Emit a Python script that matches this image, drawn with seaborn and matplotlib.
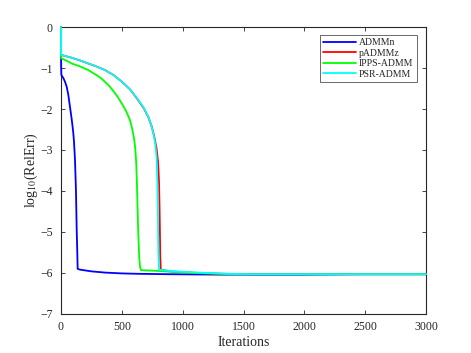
import pandas as pd
import matplotlib
matplotlib.use("Agg")
import matplotlib.pyplot as plt
import seaborn as sns

# values (iteration, log10 relative error)
admmn_x = [0, 1, 3, 20, 35, 47, 60, 74, 88, 100, 107, 115, 123, 129, 134, 137,
           160, 250, 362, 500, 636, 900, 1300, 1600, 2000, 2500, 3000]
admmn_y = [0, -0.97, -1.17, -1.25, -1.35, -1.46, -1.65, -1.95, -2.25, -2.55, -2.8, -3.24, -3.98, -4.95, -5.5, -5.9,
           -5.92, -5.96, -5.99, -6.01, -6.02, -6.03, -6.04, -6.04, -6.04, -6.03, -6.03]

padmmz_x = [0, 1, 50, 100, 160, 224, 290, 362, 430, 499, 570, 636, 680, 718, 745, 765, 785,
            798, 806, 810, 813, 816, 820, 900, 1000, 1200, 1500, 2000, 2500, 3000]
padmmz_y = [0, -0.68, -0.72, -0.76, -0.82, -0.89, -0.96, -1.05, -1.17, -1.33, -1.53, -1.79, -1.98, -2.2, -2.42,
            -2.65, -2.95, -3.3, -3.8, -4.4, -5.0, -5.6, -5.92, -5.96, -5.98, -6.01, -6.03, -6.03, -6.03, -6.03]

ipps_x = [0, 1, 44, 88, 155, 224, 290, 330, 362, 400, 430, 465, 499, 535, 567, 585, 600, 610, 618, 624, 634,
          643, 650, 657, 800, 900, 1100, 1400, 2000, 2500, 3000]
ipps_y = [0, -0.76, -0.82, -0.89, -0.96, -1.05, -1.17, -1.25, -1.34, -1.45, -1.56, -1.7, -1.86, -2.05, -2.27,
          -2.48, -2.71, -2.95, -3.3, -3.8, -4.95, -5.63, -5.85, -5.93, -5.95, -5.97, -6.0, -6.03, -6.03, -6.03, -6.03]

psr_x = [0, 1, 50, 100, 160, 224, 290, 362, 430, 499, 570, 636, 680, 718, 740, 759, 775, 786, 792,
         796, 800, 805, 900, 1000, 1200, 1500, 2000, 2500, 3000]
psr_y = [0, -0.68, -0.72, -0.76, -0.82, -0.89, -0.96, -1.05, -1.17, -1.33, -1.53, -1.78, -1.97, -2.19, -2.38,
         -2.59, -2.85, -3.2, -3.8, -4.5, -5.5, -5.92, -5.95, -5.97, -6.0, -6.03, -6.03, -6.03, -6.03]

methods = ['ADMMn', 'pADMMz', 'IPPS-ADMM', 'PSR-ADMM']
colors = ['#0000ff', '#ff0000', '#00ff00', '#00ffff']


def main():
    frames = []
    for name, xs, ys in zip(methods, [admmn_x, padmmz_x, ipps_x, psr_x],
                            [admmn_y, padmmz_y, ipps_y, psr_y]):
        frames.append(pd.DataFrame({'iter': xs, 'err': ys, 'method': name}))
    df = pd.concat(frames, ignore_index=True)

    sns.set_style('white')
    plt.rcParams['font.family'] = ['Liberation Serif', 'DejaVu Serif']
    plt.rcParams['mathtext.fontset'] = 'stix'

    fig = plt.figure(figsize=(4.71, 3.53), dpi=100)
    ax = fig.add_axes([0.1295, 0.1105, 0.7750, 0.8130])

    sns.lineplot(data=df, x='iter', y='err', hue='method', hue_order=methods,
                 palette=dict(zip(methods, colors)), estimator=None, sort=False,
                 linewidth=1.3, ax=ax)
    for ln in ax.lines:
        ln.set_clip_on(False)
        ln.set_zorder(3)

    ax.set_xlim(0, 3000)
    ax.set_ylim(-7, 0)
    ax.set_xticks(range(0, 3001, 500))
    ax.set_yticks(range(-7, 1))
    ax.set_xlabel('Iterations', fontsize=10, labelpad=2)
    ax.set_ylabel('log$_{10}$(RelErr)', fontsize=10, labelpad=0)

    for sp in ax.spines.values():
        sp.set_color('#262626')
        sp.set_linewidth(0.8)
    ax.tick_params(direction='in', length=3, width=0.6, colors='#262626',
                   labelsize=8.5, top=True, right=True, bottom=True, left=True)
    ax.tick_params(axis='x', pad=5)
    ax.tick_params(axis='y', pad=6)

    leg = ax.legend(loc='upper right', bbox_to_anchor=(0.988, 0.99), fontsize=7,
                    handlelength=3.4, handletextpad=0.3, borderpad=0.35,
                    labelspacing=0.15, frameon=True, fancybox=False)
    leg.get_frame().set_edgecolor('#262626')
    leg.get_frame().set_linewidth(0.6)

    fig.savefig('out.png', dpi=100)


if __name__ == '__main__':
    main()
